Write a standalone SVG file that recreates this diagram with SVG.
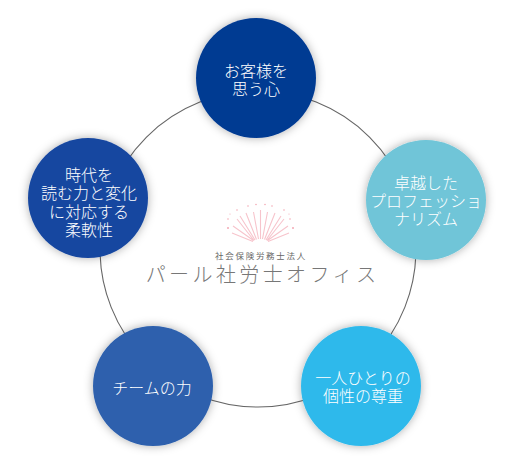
<svg xmlns="http://www.w3.org/2000/svg" width="520" height="474" viewBox="0 0 520 474">
<defs>
<filter id="sh" x="-30%" y="-30%" width="160%" height="160%"><feDropShadow dx="0" dy="0" stdDeviation="5" flood-color="#000" flood-opacity="0.32"/></filter>
</defs>
<style>
text{font-family:"Liberation Sans","Noto Sans CJK JP",sans-serif;text-anchor:middle}
.n{fill:#fff;font-size:16px;font-weight:300}
.r{stroke:#f7c4cc;stroke-width:1.1;fill:none}
.d{fill:#f3a9b5}
</style>
<rect width="520" height="474" fill="#fff"/>
<g id="connectors"><circle cx="258" cy="249" r="158" fill="none" stroke="#666" stroke-width="1.1"/></g>
<g id="logo">
<g class="r">
<path d="M260.5 239 L260.5 210M258.5 239 L253.5 212M262.5 239 L267.5 212M256.5 239.5 L246 213M264.5 239.5 L275 213M255 240 L240 216M266 240 L281 216M254 240.5 L237 219M267 240.5 L284 219M253.5 240.5 L233 226M267.5 240.5 L288 226M253 241.5 L232 233M268 241.5 L289 233"/>
</g>
<g class="d">
<circle cx="248" cy="206" r=".8"/><circle cx="256" cy="204.5" r=".8"/><circle cx="265" cy="204.5" r=".8"/><circle cx="272" cy="206" r=".8"/><circle cx="237" cy="210" r=".8"/><circle cx="284" cy="210" r=".8"/><circle cx="228" cy="219" r=".8"/><circle cx="290" cy="219" r=".8"/><circle cx="230" cy="214" r=".6"/><circle cx="289" cy="214" r=".6"/><circle cx="228" cy="228" r="1"/><circle cx="293" cy="228" r="1"/>
</g>
<text x="261" y="259" font-size="8.5" fill="#666" letter-spacing="1.7">社会保険労務士法人</text>
<text x="262.5" y="282" font-size="20" fill="#777" letter-spacing="3.4" font-weight="300">パール社労士オフィス</text>
</g>
<g id="node-top"><circle cx="256" cy="78" r="60" fill="#063a92" filter="url(#sh)"/><text class="n"><tspan x="256" y="76.5">お客様を</tspan><tspan x="256" y="95">思う心</tspan></text></g>
<g id="node-right"><circle cx="426" cy="200" r="60" fill="#6fc5d8" filter="url(#sh)"/><text class="n"><tspan x="426" y="188.5">卓越した</tspan><tspan x="426" y="206.5">プロフェッショ</tspan><tspan x="426" y="225">ナリズム</tspan></text></g>
<g id="node-br"><circle cx="361" cy="386" r="60" fill="#2fb9eb" filter="url(#sh)"/><text class="n"><tspan x="363" y="383.5">一人ひとりの</tspan><tspan x="363" y="402">個性の尊重</tspan></text></g>
<g id="node-bl"><circle cx="153" cy="386" r="60" fill="#2d60ad" filter="url(#sh)"/><text class="n" x="152" y="393.5">チームの力</text></g>
<g id="node-left"><circle cx="88" cy="198" r="60" fill="#1546a0" filter="url(#sh)"/><text class="n"><tspan x="89" y="181">時代を</tspan><tspan x="89" y="199">読む力と変化</tspan><tspan x="89" y="217.5">に対応する</tspan><tspan x="89" y="235.5">柔軟性</tspan></text></g>
</svg>
